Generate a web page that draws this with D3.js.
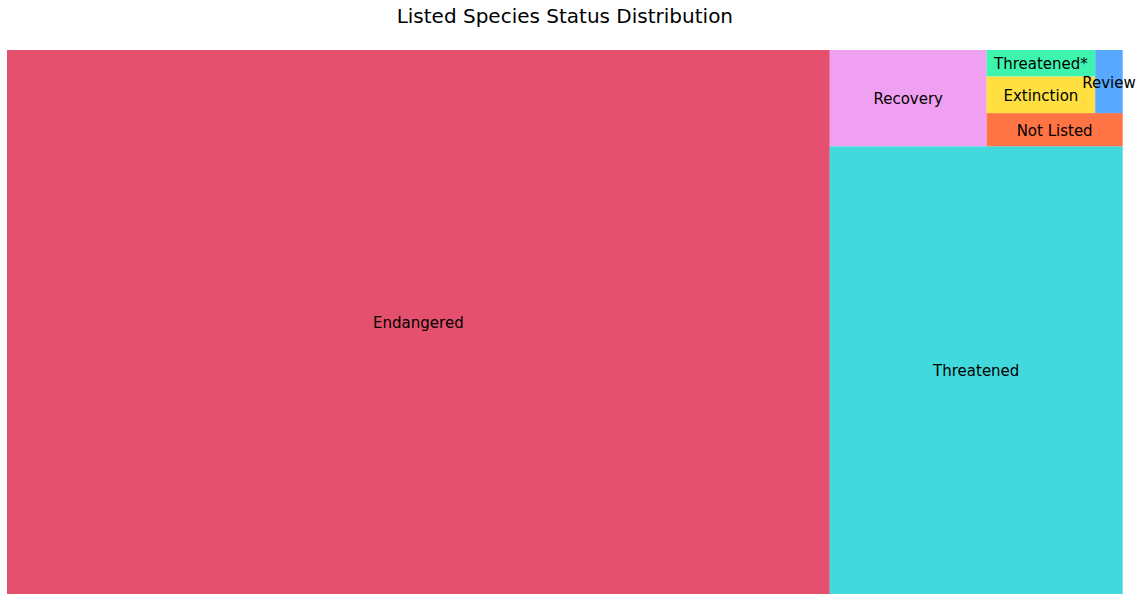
<!DOCTYPE html>
<html>
<head>
<meta charset="utf-8">
<script src="https://cdn.jsdelivr.net/npm/d3@7"></script>
<style>
    body { margin: 0; background: #fff; }
    text { font-family: "DejaVu Sans", sans-serif; fill: #000; }
</style>
</head>
<body>
<svg id="chart" width="1143" height="601"></svg>
<script>
// Status categories, largest first (same order the tiles are laid out in)
var statuses = ["Endangered", "Threatened", "Recovery", "Not Listed", "Extinction", "Threatened*", "Review"];
var counts = [2580, 756, 87, 26, 23, 16.5, 10];
var colors = ["#e5506e", "#42d9dc", "#f0a0f0", "#ff7445", "#ffe040", "#3ef5b0", "#57a9ff"];

var svg = d3.select("#chart");

// Plot area in pixels; layout is computed in a 100 x 100 box, y pointing up
var x = d3.scaleLinear().domain([0, 100]).range([7, 1122.7]);
var y = d3.scaleLinear().domain([0, 100]).range([594, 50]);

// Lay a group of sizes along the shorter side, like the squarify package
function layoutRow(sizes, x0, y0, dx, dy) {
    var w = d3.sum(sizes) / dy;
    return sizes.map(function (s) {
        var r = { x: x0, y: y0, dx: w, dy: s / w };
        y0 += s / w;
        return r;
    });
}

function layoutCol(sizes, x0, y0, dx, dy) {
    var h = d3.sum(sizes) / dx;
    return sizes.map(function (s) {
        var r = { x: x0, y: y0, dx: s / h, dy: h };
        x0 += s / h;
        return r;
    });
}

function layout(sizes, x0, y0, dx, dy) {
    return dx >= dy ? layoutRow(sizes, x0, y0, dx, dy) : layoutCol(sizes, x0, y0, dx, dy);
}

function leftover(sizes, x0, y0, dx, dy) {
    var covered = d3.sum(sizes);
    if (dx >= dy) {
        var w = covered / dy;
        return [x0 + w, y0, dx - w, dy];
    }
    var h = covered / dx;
    return [x0, y0 + h, dx, dy - h];
}

function worstRatio(sizes, x0, y0, dx, dy) {
    return d3.max(layout(sizes, x0, y0, dx, dy), function (r) {
        return Math.max(r.dx / r.dy, r.dy / r.dx);
    });
}

function squarify(sizes, x0, y0, dx, dy) {
    if (sizes.length === 0) return [];
    if (sizes.length === 1) return layout(sizes, x0, y0, dx, dy);
    var i = 1;
    while (i < sizes.length &&
           worstRatio(sizes.slice(0, i), x0, y0, dx, dy) >= worstRatio(sizes.slice(0, i + 1), x0, y0, dx, dy)) {
        i++;
    }
    var rest = leftover(sizes.slice(0, i), x0, y0, dx, dy);
    return layout(sizes.slice(0, i), x0, y0, dx, dy)
        .concat(squarify(sizes.slice(i), rest[0], rest[1], rest[2], rest[3]));
}

// Custom tile for d3.treemap
function squarifyTile(parent, x0, y0, x1, y1) {
    var dx = x1 - x0, dy = y1 - y0;
    var total = parent.value;
    var sizes = parent.children.map(function (c) { return c.value * dx * dy / total; });
    var rects = squarify(sizes, x0, y0, dx, dy);
    parent.children.forEach(function (c, i) {
        var r = rects[i];
        c.x0 = r.x; c.x1 = r.x + r.dx;
        c.y0 = r.y; c.y1 = r.y + r.dy;
    });
}

var data = {
    name: "root",
    children: statuses.map(function (s, i) { return { name: s, value: counts[i], color: colors[i] }; })
};

var root = d3.hierarchy(data).sum(function (d) { return d.value || 0; });
d3.treemap().size([100, 100]).tile(squarifyTile)(root);

var leaves = svg.selectAll("g.leaf")
    .data(root.leaves())
    .enter()
    .append("g")
    .attr("class", "leaf");

leaves.append("rect")
    .attr("x", function (d) { return x(d.x0); })
    .attr("y", function (d) { return y(d.y1); })
    .attr("width", function (d) { return x(d.x1) - x(d.x0); })
    .attr("height", function (d) { return y(d.y0) - y(d.y1); })
    .attr("fill", function (d) { return d.data.color; });

var fontSize = 15;
leaves.append("text")
    .attr("x", function (d) { return x((d.x0 + d.x1) / 2); })
    .attr("y", function (d) { return y((d.y0 + d.y1) / 2) + fontSize * 0.4; })
    .attr("text-anchor", "middle")
    .attr("font-size", fontSize)
    .text(function (d) { return d.data.name; });

// Title
svg.append("text")
    .attr("x", (x(0) + x(100)) / 2)
    .attr("y", 23)
    .attr("text-anchor", "middle")
    .attr("font-size", 20)
    .text("Listed Species Status Distribution");
</script>
</body>
</html>
